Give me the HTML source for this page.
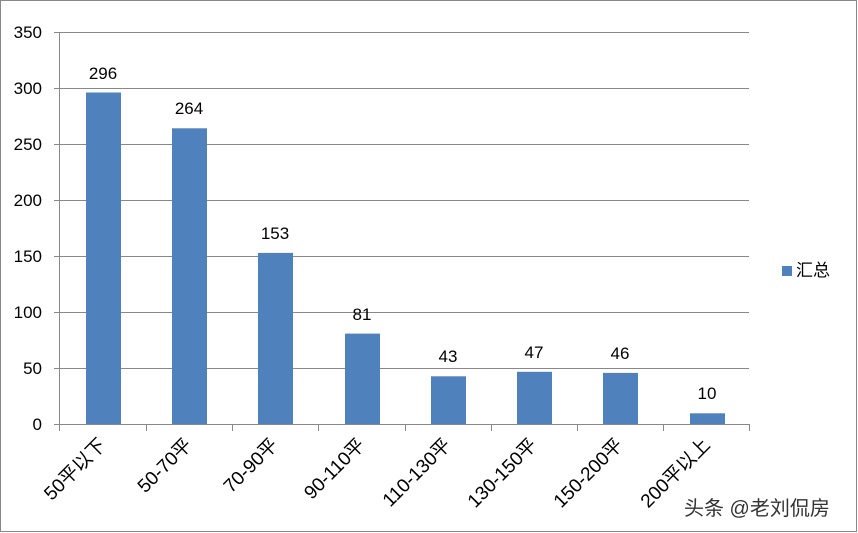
<!DOCTYPE html>
<html><head><meta charset="utf-8"><style>
html,body{margin:0;padding:0;background:#fff}
svg{display:block;font-family:"Liberation Sans","Noto Sans CJK SC",sans-serif}
</style></head><body>
<svg width="858" height="533" viewBox="0 0 858 533">
<rect x="0.5" y="0.5" width="856" height="531" fill="#fff" stroke="#888"/>
<g stroke="#888" stroke-width="1">
<line x1="60" y1="32.5" x2="749" y2="32.5"/>
<line x1="60" y1="88.5" x2="749" y2="88.5"/>
<line x1="60" y1="144.5" x2="749" y2="144.5"/>
<line x1="60" y1="200.5" x2="749" y2="200.5"/>
<line x1="60" y1="256.5" x2="749" y2="256.5"/>
<line x1="60" y1="312.5" x2="749" y2="312.5"/>
<line x1="60" y1="368.5" x2="749" y2="368.5"/>
<line x1="59.5" y1="32" x2="59.5" y2="424"/>
<line x1="54" y1="32.5" x2="60" y2="32.5"/><line x1="54" y1="88.5" x2="60" y2="88.5"/><line x1="54" y1="144.5" x2="60" y2="144.5"/><line x1="54" y1="200.5" x2="60" y2="200.5"/><line x1="54" y1="256.5" x2="60" y2="256.5"/><line x1="54" y1="312.5" x2="60" y2="312.5"/><line x1="54" y1="368.5" x2="60" y2="368.5"/><line x1="54" y1="424.5" x2="60" y2="424.5"/>
</g>
<g fill="#4f81bd">
<rect x="86" y="92.5" width="35" height="332"/>
<rect x="172" y="128.3" width="35" height="296.2"/>
<rect x="258" y="252.9" width="35" height="171.6"/>
<rect x="345" y="333.6" width="35" height="90.9"/>
<rect x="431" y="376.3" width="35" height="48.2"/>
<rect x="517" y="371.8" width="35" height="52.7"/>
<rect x="603" y="372.9" width="35" height="51.6"/>
<rect x="690" y="413.3" width="35" height="11.2"/>
</g>
<g stroke="#888" stroke-width="1">
<line x1="60" y1="424.5" x2="749" y2="424.5"/>
<line x1="146.5" y1="424" x2="146.5" y2="431"/><line x1="232.5" y1="424" x2="232.5" y2="431"/><line x1="318.5" y1="424" x2="318.5" y2="431"/><line x1="405.5" y1="424" x2="405.5" y2="431"/><line x1="491.5" y1="424" x2="491.5" y2="431"/><line x1="577.5" y1="424" x2="577.5" y2="431"/><line x1="663.5" y1="424" x2="663.5" y2="431"/><line x1="749.5" y1="424" x2="749.5" y2="431"/><line x1="59.5" y1="424" x2="59.5" y2="431"/>
</g>
<g font-size="17" fill="#000" text-anchor="end">
<text x="42" y="38">350</text><text x="42" y="94">300</text><text x="42" y="150">250</text><text x="42" y="206">200</text><text x="42" y="262">150</text><text x="42" y="318">100</text><text x="42" y="374">50</text><text x="42" y="430">0</text>
</g>
<g font-size="17" fill="#000" text-anchor="middle">
<text x="103" y="79">296</text><text x="189" y="114">264</text><text x="275" y="239">153</text><text x="362" y="320">81</text><text x="448" y="362">43</text><text x="534" y="358">47</text><text x="620" y="359">46</text><text x="707" y="399">10</text>
</g>
<g font-size="19" fill="#000" text-anchor="end">
<text transform="translate(107,446) rotate(-45)">50平以下</text>
<text transform="translate(193,446) rotate(-45)">50-70平</text>
<text transform="translate(279,446) rotate(-45)">70-90平</text>
<text transform="translate(366,446) rotate(-45)">90-110平</text>
<text transform="translate(452,446) rotate(-45)">110-130平</text>
<text transform="translate(538,446) rotate(-45)">130-150平</text>
<text transform="translate(624,446) rotate(-45)">150-200平</text>
<text transform="translate(711,446) rotate(-45)">200平以上</text>
</g>
<rect x="782" y="266" width="10" height="10" fill="#4f81bd"/>
<text x="796" y="276" font-size="17" fill="#000">汇总</text>
<text x="684" y="515" font-size="20" fill="#333">头条 @老刘侃房</text>
</svg>
</body></html>
